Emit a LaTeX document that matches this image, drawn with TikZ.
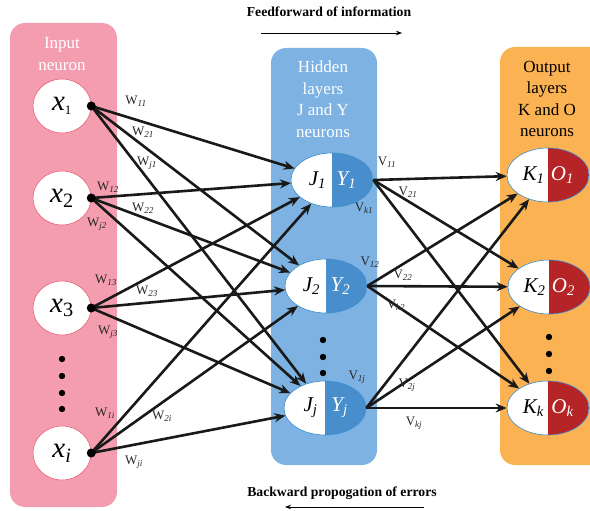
\documentclass[tikz,border=0pt]{standalone}
\usepackage{fontspec}
\setmainfont{Liberation Serif}
\usetikzlibrary{arrows.meta,shapes.geometric}
\definecolor{inpink}{RGB}{244,157,175}
\definecolor{hidbox}{RGB}{125,178,226}
\definecolor{outbox}{RGB}{250,178,82}
\definecolor{hidfill}{RGB}{72,141,204}
\definecolor{outfill}{RGB}{181,36,38}
\definecolor{pinkline}{RGB}{232,80,105}
\definecolor{blueline}{RGB}{60,140,205}
\begin{document}
\begin{tikzpicture}[x=1pt,y=-1pt,
    conn/.style={line width=2.6pt,black!90,-{Stealth[length=11pt,width=9pt]}},
    inneuron/.style={ellipse,draw=pinkline,line width=0.5pt,fill=white,
        minimum width=58pt,minimum height=54pt,inner sep=0pt,
        font=\fontsize{29}{30}\selectfont},
    hidneuron/.style={ellipse,draw=blueline,line width=0.6pt,fill=white,
        minimum width=58pt,minimum height=54pt,inner sep=0pt,
        font=\fontsize{21}{22}\selectfont,
        path picture={\fill[hidfill] (path picture bounding box.north)
            rectangle (path picture bounding box.south east);}},
    outneuron/.style={hidneuron,
        path picture={\fill[outfill] (path picture bounding box.north)
            rectangle (path picture bounding box.south east);}},
    boxlab/.style={align=center,font=\fontsize{17}{21.5}\selectfont},
    wlab/.style={text=black!85,inner sep=0pt,font=\fontsize{13}{14}\selectfont},
    title/.style={font=\fontsize{13.7}{15}\selectfont\bfseries}]
    \useasboundingbox (0,0) rectangle (590,511);

    % layer boxes
    \fill[inpink,rounded corners=15pt] (10,23) rectangle (117,507);
    \fill[hidbox,rounded corners=15pt] (271,48) rectangle (377,465);
    \fill[outbox,rounded corners=15pt] (500,47) rectangle (610,465);
    \node[boxlab,text=white] (intitle) at (62,54) {Input\\neuron};
    \node[boxlab,text=white] (hidtitle) at (323,99) {Hidden\\layers\\J and Y\\neurons};
    \node[boxlab] (outtitle) at (547,99) {Output\\layers\\K and O\\neurons};

    % direction notes
    \node[title] (fwd) at (329,12) {Feedforward of information};
    \coordinate (fwdA) at (261,33);
    \coordinate (fwdB) at (402,33);
    \draw[line width=0.9pt,-{Stealth[length=6pt,width=4.5pt]}] (fwdA) -- (fwdB);
    \node[title] (bwd) at (342,493) {Backward propogation of errors};
    \coordinate (bwdA) at (424,507);
    \coordinate (bwdB) at (285,507);
    \draw[line width=0.9pt,-{Stealth[length=6pt,width=4.5pt]}] (bwdA) -- (bwdB);

    % neurons
    \node[inneuron] (x1) at (62,106) {\textit{x}\textsubscript{\fontsize{13}{14}\selectfont 1}};
    \node[inneuron] (x2) at (62,198) {\textit{x}\textsubscript{2}};
    \node[inneuron] (x3) at (62,308) {\textit{x}\textsubscript{3}};
    \node[inneuron] (xi) at (62,453) {\textit{x\textsubscript{i}}};
    \node[hidneuron] (J1) at (332,180) {\makebox[29pt]{\textit{J\textsubscript{1}}}\makebox[29pt]{\color{white}\textit{Y\textsubscript{1}}}};
    \node[hidneuron] (J2) at (326,286) {\makebox[29pt]{\textit{J\textsubscript{2}}}\makebox[29pt]{\color{white}\textit{Y\textsubscript{2}}}};
    \node[hidneuron] (Jj) at (325,408) {\makebox[29pt]{\textit{J\textsubscript{j}}}\makebox[29pt]{\color{white}\textit{Y\textsubscript{j}}}};
    \node[outneuron] (K1) at (548,175) {\makebox[29pt]{\textit{K\textsubscript{1}}}\makebox[29pt]{\color{white}\textit{O\textsubscript{1}}}};
    \node[outneuron] (K2) at (549,287) {\makebox[29pt]{\textit{K\textsubscript{2}}}\makebox[29pt]{\color{white}\textit{O\textsubscript{2}}}};
    \node[outneuron] (Kk) at (548,408) {\makebox[29pt]{\textit{K\textsubscript{k}}}\makebox[29pt]{\color{white}\textit{O\textsubscript{k}}}};

    % dots for the missing neurons
    \foreach \y in {359,376,393,409}
        \fill (62,\y) circle (3.2pt);
    \foreach \y in {340,357,373}
        \fill (323,\y) circle (3.2pt);
    \foreach \y in {337,354,371}
        \fill (549,\y) circle (3.2pt);

    % weights
    \foreach \i in {x1,x2,x3,xi}
        \foreach \j in {J1,J2,Jj}
            \draw[conn] (\i.east) -- (\j);
    \foreach \j in {J1,J2,Jj}
        \foreach \k in {K1,K2,Kk}
            \draw[conn] (\j.east) -- (\k);
    \foreach \i in {x1,x2,x3,xi}
        \fill (\i.east) circle (4.5pt);

    \node[wlab] (w11) at (136,101) {W\textsubscript{\itshape 11}};
    \node[wlab] (w21) at (143,132) {W\textsubscript{\itshape 21}};
    \node[wlab] (wj1) at (147,163) {W\textsubscript{\itshape j1}};
    \node[wlab] (w12) at (108,187) {W\textsubscript{\itshape 12}};
    \node[wlab] (w22) at (143,208) {W\textsubscript{\itshape 22}};
    \node[wlab] (wj2) at (97,224) {W\textsubscript{\itshape j2}};
    \node[wlab] (w13) at (106,280) {W\textsubscript{\itshape 13}};
    \node[wlab] (w23) at (147,291) {W\textsubscript{\itshape 23}};
    \node[wlab] (wj3) at (108,332) {W\textsubscript{\itshape j3}};
    \node[wlab] (w1i) at (105,413) {W\textsubscript{\itshape 1i}};
    \node[wlab] (w2i) at (162,416) {W\textsubscript{\itshape 2i}};
    \node[wlab] (wji) at (134,462) {W\textsubscript{\itshape ji}};
    \node[wlab] (v11) at (387,162) {V\textsubscript{\itshape 11}};
    \node[wlab] (v21) at (408,192) {V\textsubscript{\itshape 21}};
    \node[wlab] (vk1) at (364,208) {V\textsubscript{\itshape k1}};
    \node[wlab] (v12) at (370,262) {V\textsubscript{\itshape 12}};
    \node[wlab] (v22) at (403,275) {V\textsubscript{\itshape 22}};
    \node[wlab] (vk2) at (396,305) {V\textsubscript{\itshape k2}};
    \node[wlab] (v1j) at (357,377) {V\textsubscript{\itshape 1j}};
    \node[wlab] (v2j) at (407,385) {V\textsubscript{\itshape 2j}};
    \node[wlab] (vkj) at (414,423) {V\textsubscript{\itshape kj}};
\end{tikzpicture}
\end{document}
